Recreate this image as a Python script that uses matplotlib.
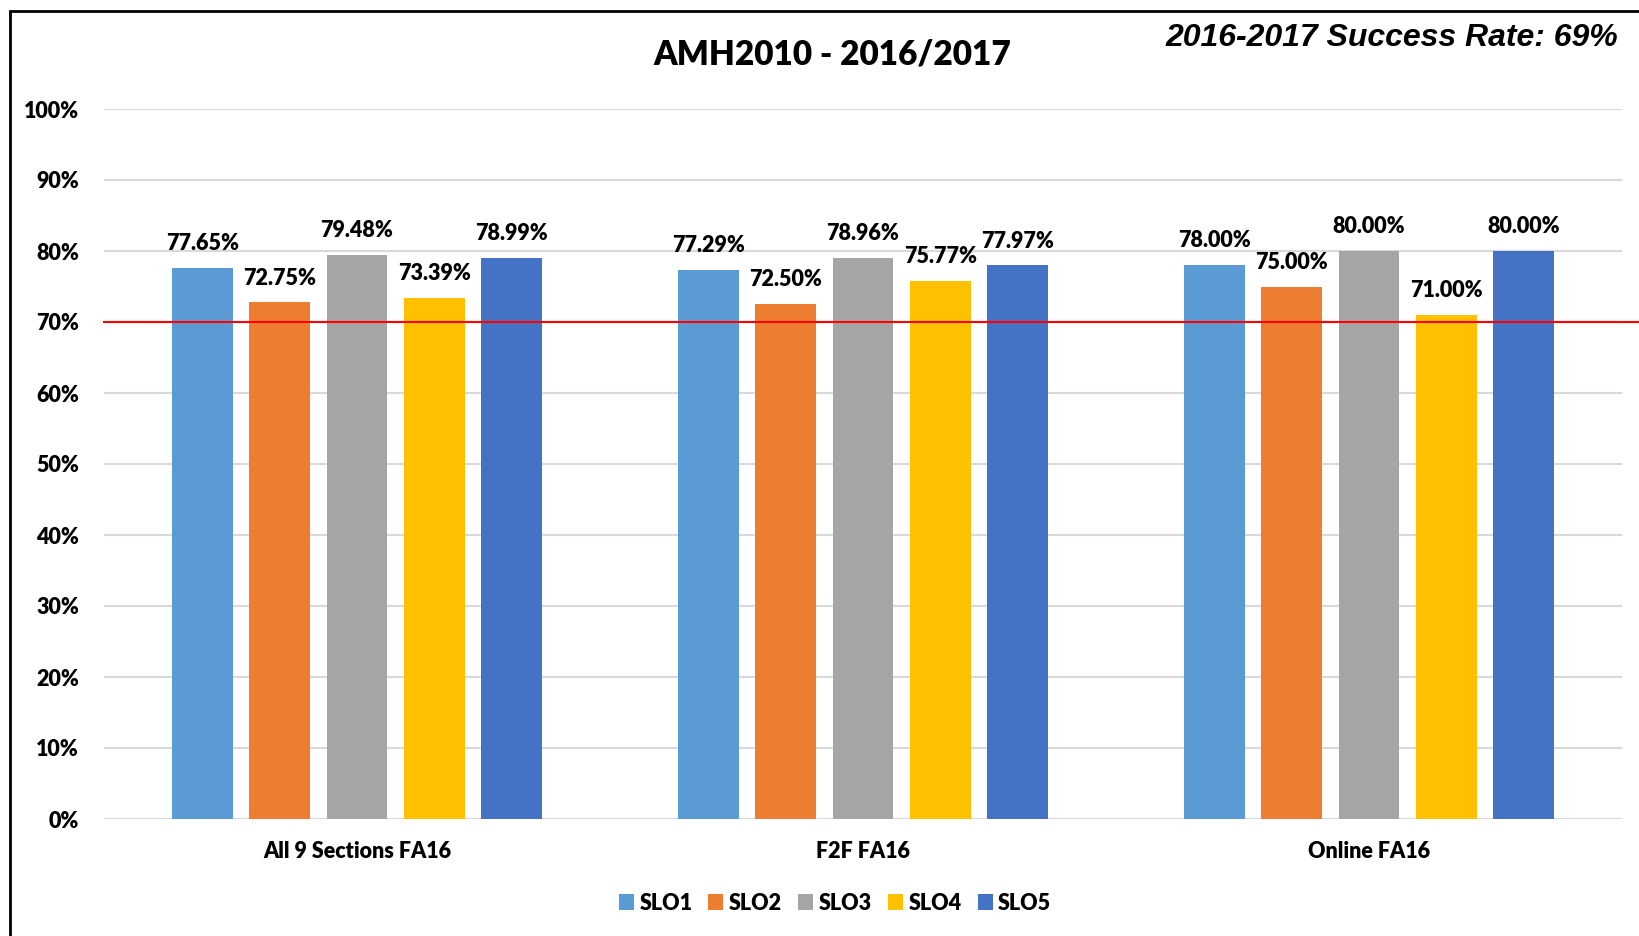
import numpy as np
import matplotlib.pyplot as plt
from matplotlib.patches import Rectangle

# === Data ===
categories = ["All 9 Sections FA16", "F2F FA16", "Online FA16"]
series = ["SLO1", "SLO2", "SLO3", "SLO4", "SLO5"]
values = {
    "SLO1": [77.65, 77.29, 78.00],
    "SLO2": [72.75, 72.50, 75.00],
    "SLO3": [79.48, 78.96, 80.00],
    "SLO4": [73.39, 75.77, 71.00],
    "SLO5": [78.99, 77.97, 80.00],
}
target = 70
colors = ["#5B9BD5", "#ED7D31", "#A5A5A5", "#FFC000", "#4472C4"]

plt.rcParams['font.family'] = ['Lato', 'DejaVu Sans']
WT = "heavy"
FS = 15.5

W, H = 1640, 936
fig = plt.figure(figsize=(W / 100, H / 100), dpi=100)
ax = fig.add_axes([104 / W, 1 - 819 / H, (1622 - 104) / W, (819 - 109) / H])

x = np.arange(len(categories))
width = 0.12
step = 0.153
for i, (name, col) in enumerate(zip(series, colors)):
    pos = x + (i - 2) * step
    bars = ax.bar(pos, values[name], width, color=col, label=name, zorder=3)
    for b, v in zip(bars, values[name]):
        ax.annotate(f"{v:.2f}%", (b.get_x() + b.get_width() / 2, v),
                    xytext=(0, 10), textcoords="offset points",
                    ha="center", va="bottom", fontsize=FS, fontweight=WT)

ax.set_xlim(-0.5, 2.5)
ax.set_ylim(0, 100)
ax.set_yticks(range(0, 101, 10))
ax.set_yticklabels([f"{t}%" for t in range(0, 101, 10)], fontsize=FS, fontweight=WT)
ax.set_xticks(x)
ax.set_xticklabels(categories, fontsize=FS, fontweight=WT)
ax.tick_params(length=0)
ax.tick_params(axis="y", pad=18)
ax.tick_params(axis="x", pad=16)
ax.grid(axis="y", color="#D9D9D9", linewidth=1.5, zorder=0)
for s in ax.spines.values():
    s.set_visible(False)

# target line, runs past the plot edge
ax.plot([0, 1.02], [target, target], transform=ax.get_yaxis_transform(),
        color="#FF0000", linewidth=1.5, clip_on=False, zorder=4)

fig.text(832 / W, 1 - 55 / H, "AMH2010 - 2016/2017", ha="center", va="center",
         fontsize=24, fontweight=WT)
fig.text(1618 / W, 1 - 38 / H, "2016-2017 Success Rate: 69%", ha="right", va="center",
         fontsize=23, fontweight="bold", fontstyle="italic", family="Liberation Sans")

fig.legend(loc="center", bbox_to_anchor=(835 / W, 1 - 903 / H), ncol=5, frameon=False,
           prop={"size": FS, "weight": WT}, handlelength=0.7, handleheight=0.7,
           handletextpad=0.25, columnspacing=0.75)

# outer frame (left and top edges visible)
fig.patches.append(Rectangle((10 / W, -0.1), 1.2, 1 - 11 / H + 0.1, transform=fig.transFigure,
                             fill=False, edgecolor="black", linewidth=2))

fig.savefig("out.png", dpi=100)
